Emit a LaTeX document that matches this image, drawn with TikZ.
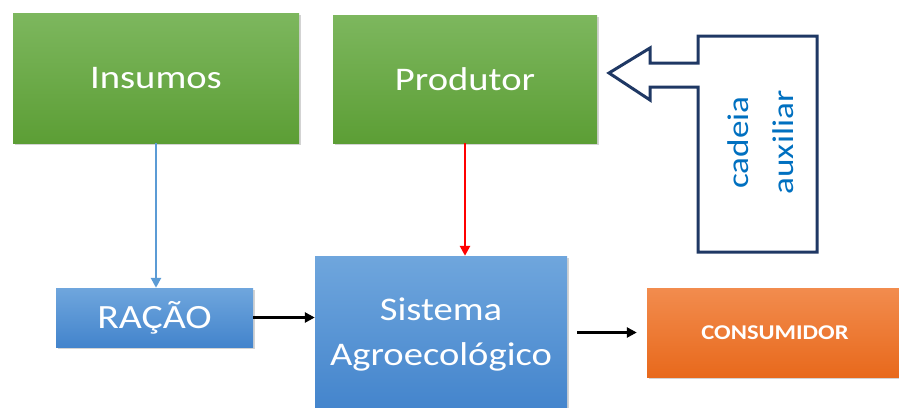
\documentclass[tikz,border=0pt]{standalone}
\usepackage{fontspec}
\setmainfont{Carlito}
\newfontfamily\labelfont[FakeStretch=1.17]{Carlito}
\usetikzlibrary{arrows.meta,shadows}

\definecolor{greenTop}{HTML}{7DB75E}
\definecolor{greenBot}{HTML}{5C9E35}
\definecolor{blueTop}{HTML}{6FA6DD}
\definecolor{blueBot}{HTML}{4384CC}
\definecolor{orangeTop}{HTML}{F28C4E}
\definecolor{orangeBot}{HTML}{E8691C}
\definecolor{lineBlue}{HTML}{5B9BD5}
\definecolor{navy}{HTML}{1F3864}
\definecolor{textBlue}{HTML}{0070C0}

\tikzset{
  box/.style={rectangle, draw=none, text=white, align=center,
    drop shadow={shadow xshift=1.5pt, shadow yshift=-2pt, opacity=0.35},
    font=\labelfont\fontsize{33}{45}\selectfont},
  greenbox/.style={box, top color=greenTop, bottom color=greenBot},
  bluebox/.style={box, top color=blueTop, bottom color=blueBot},
  orangebox/.style={box, top color=orangeTop, bottom color=orangeBot},
  flow/.style={line width=2.8pt, -{Triangle[length=10pt,width=10pt]}},
}

\begin{document}
\begin{tikzpicture}[x=1pt,y=-1pt]
  \useasboundingbox (0,0) rectangle (899,407);
  \clip (0,0) rectangle (899,407);

  % upper row
  \node[greenbox, minimum width=286pt, minimum height=130pt] (ins) at (156,78) {Insumos};
  \node[greenbox, minimum width=264pt, minimum height=128pt] (prod) at (465,79) {Produtor};

  % lower row
  \node[bluebox, minimum width=197pt, minimum height=59pt,
        font=\labelfont\fontsize{34}{40}\selectfont] (racao) at (154.5,317.5) {RAÇÃO};
  \node[bluebox, minimum width=252pt, minimum height=156pt] (sis) at (441,334) {Sistema\\Agroecológico};
  \node[orangebox, minimum width=256pt, minimum height=89pt,
        font=\labelfont\bfseries\fontsize{21}{25}\selectfont] (cons) at (775,332.5) {CONSUMIDOR};

  % connectors
  \draw[flow, lineBlue] (ins.south) -- (ins.south |- racao.north);
  \draw[flow, red] (prod.south) -- (prod.south |- sis.north);
  \draw[flow, black] (racao.east) -- (sis.west |- racao.east);
  \draw[flow, black, shorten <=10pt, shorten >=10pt] (sis.east |- cons.west) -- (cons.west);

  % left-pointing arrow callout
  \draw[navy, line width=3pt, line join=miter, fill=white]
    (698,36) -- (817,36) -- (817,252) -- (698,252) -- (698,87) -- (650,87)
    -- (650,100) -- (609,73) -- (650,48) -- (650,63) -- (698,63) -- cycle;
  \node[rotate=90, text=textBlue, align=center,
        font=\labelfont\fontsize{30}{45}\selectfont] (aux) at (760.5,142.5) {cadeia\\auxiliar};
\end{tikzpicture}
\end{document}
